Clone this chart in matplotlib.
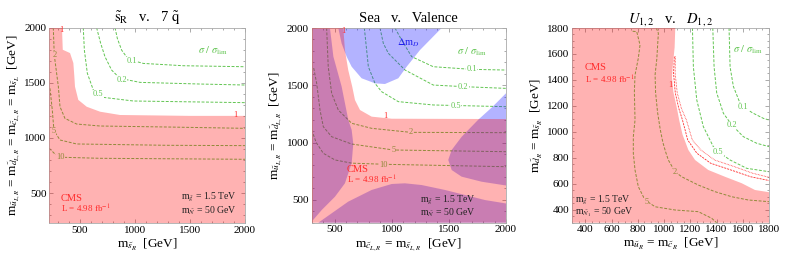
import matplotlib
matplotlib.use("Agg")
import matplotlib.pyplot as plt
from matplotlib.ticker import MultipleLocator

plt.rcParams['font.family'] = ['Liberation Serif', 'DejaVu Serif']
plt.rcParams['mathtext.fontset'] = 'stix'

GREEN = '#62c552'
RED = '#ff2a2a'

# ---- panel 1: s_R v. 7 squarks ----
p1_allowed_edge = [(340, 2000), (347, 1800), (413, 1770), (443, 1680), (452, 1560), (458, 1465),
                   (488, 1345), (564, 1283), (685, 1238), (866, 1208), (1500, 1200), (2000, 1200)]
p1_levels = {
    '0.1': [(821, 2000), (842, 1903), (881, 1797), (942, 1713), (1078, 1676), (1441, 1655), (2000, 1646)],
    '0.2': [(654, 2000), (691, 1858), (730, 1737), (790, 1616), (866, 1540), (1048, 1504), (1592, 1489), (2000, 1480)],
    '0.5': [(533, 2000), (543, 1797), (570, 1586), (624, 1435), (715, 1368), (987, 1335), (1592, 1326), (2000, 1320)],
    '2': [(261, 2000), (270, 1752), (307, 1465), (322, 1283), (367, 1177), (473, 1126), (685, 1108), (1290, 1099), (2000, 1087)],
    '5': [(231, 1450), (252, 1253), (267, 1066), (322, 981), (473, 945), (1290, 933), (2000, 930)],
    '10': [(225, 905), (276, 854), (352, 824), (685, 815), (2000, 806)],
}
p1_label_pos = {'0.1': (972, 1698), '0.2': (881, 1525), '0.5': (670, 1398),
                '2': (270, 1752), '5': (267, 1063), '10': (328, 830)}
p1_red_labels = [(337, 1975), (1915, 1208)]

# ---- panel 2: sea v. valence ----
p2_allowed_edge = [(577, 2000), (591, 1808), (620, 1633), (655, 1488), (679, 1371), (723, 1284),
                   (825, 1226), (1000, 1208), (2000, 1205)]
p2_blue_top = [(533, 2000), (562, 1866), (606, 1750), (650, 1662), (737, 1561), (854, 1517), (941, 1511),
               (1058, 1561), (1131, 1662), (1248, 1808), (1437, 2000)]
p2_blue_left = [(300, 2000), (460, 2000), (490, 1750), (562, 1490), (620, 1200), (650, 1110), (664, 990),
                (650, 820), (591, 644), (504, 527), (388, 411), (300, 309)]
p2_blue_bottom = [(358, 300), (475, 382), (620, 484), (825, 586), (1000, 638), (1116, 644), (1262, 629),
                  (1466, 586), (1641, 542), (1816, 498), (2000, 468), (2000, 300)]
p2_blue_right = [(2000, 1430), (1880, 1310), (1758, 1200), (1641, 1080), (1612, 1050), (1525, 935),
                 (1495, 848), (1525, 760), (1612, 702), (1787, 658), (2000, 625)]
p2_levels = {
    '0.1': [(1029, 2000), (1087, 1895), (1175, 1750), (1364, 1662), (1700, 1639), (2000, 1633)],
    '0.2': [(898, 2000), (927, 1866), (971, 1779), (1117, 1633), (1364, 1502), (1627, 1488), (2000, 1473)],
    '0.5': [(761, 2000), (796, 1662), (854, 1517), (912, 1444), (1058, 1357), (1364, 1328), (2000, 1313)],
    '2': [(431, 2000), (445, 1662), (475, 1430), (533, 1284), (650, 1168), (825, 1124), (1166, 1089), (2000, 1086)],
    '5': [(318, 1650), (344, 1517), (373, 1284), (402, 1138), (475, 1051), (650, 987), (1014, 935), (2000, 920)],
    '10': [(300, 1110), (340, 1000), (402, 906), (504, 848), (650, 820), (941, 810), (2000, 789)],
}
p2_label_pos = {'0.1': (1700, 1639), '0.2': (1627, 1482), '0.5': (1560, 1319),
                '2': (1166, 1089), '5': (1014, 935), '10': (927, 804)}
p2_red_labels = [(577, 1975), (947, 1232)]

# ---- panel 3: U v. D ----
p3_allowed_edge = [(1085, 1800), (1080, 1650), (1065, 1500), (1060, 1420), (1070, 1310), (1098, 1180),
                   (1115, 1090), (1140, 980), (1185, 860), (1236, 783), (1337, 706), (1464, 654),
                   (1592, 604), (1693, 552), (1800, 535)]
p3_band_dashed = [(1078, 1580), (1072, 1450), (1085, 1300), (1112, 1180), (1140, 1091), (1180, 937),
                  (1250, 835), (1355, 758), (1510, 706), (1660, 654), (1800, 625)]
p3_band_dotted = [(1086, 1580), (1084, 1450), (1100, 1300), (1132, 1180), (1170, 1091), (1215, 937),
                  (1280, 860), (1385, 783), (1535, 732), (1675, 681), (1800, 650)]
p3_levels = {
    '0.1': [(1495, 1800), (1503, 1500), (1528, 1350), (1579, 1220), (1620, 1180), (1680, 1143), (1757, 1104), (1800, 1091)],
    '0.2': [(1371, 1800), (1381, 1500), (1401, 1300), (1452, 1143), (1516, 1053), (1604, 963), (1706, 912), (1800, 886)],
    '0.5': [(1216, 1800), (1223, 1500), (1249, 1245), (1299, 1040), (1375, 886), (1413, 847), (1503, 783), (1630, 719), (1800, 693)],
    '2': [(940, 1800), (956, 1760), (950, 1660), (944, 1560), (931, 1440), (935, 1300), (950, 1150),
          (970, 1020), (990, 920), (1010, 850), (1032, 783), (1083, 693), (1134, 654), (1261, 590), (1388, 539),
          (1516, 500), (1642, 475), (1800, 462)],
    '5': [(760, 1775), (791, 1772), (816, 1669), (803, 1567), (778, 1438), (773, 1309), (778, 1091), (765, 963),
          (765, 835), (778, 706), (803, 578), (854, 475), (931, 423), (1083, 398), (1261, 385), (1363, 334), (1400, 300)],
}
p3_label_pos = {'0.1': (1604, 1190), '0.2': (1516, 1053), '0.5': (1413, 847), '2': (1083, 693), '5': (867, 462)}
p3_red_labels = [(1045, 1361)]


def xy(pts):
    return [p[0] for p in pts], [p[1] for p in pts]


def style_axes(ax, lims, major, minor):
    ax.set_xlim(lims[0], lims[1])
    ax.set_ylim(lims[2], lims[3])
    ax.xaxis.set_major_locator(MultipleLocator(major))
    ax.yaxis.set_major_locator(MultipleLocator(major))
    ax.xaxis.set_minor_locator(MultipleLocator(minor))
    ax.yaxis.set_minor_locator(MultipleLocator(minor))
    ax.tick_params(which='both', direction='in', top=True, right=True, color='#888888',
                   labelsize=8, width=0.5, pad=2)
    ax.tick_params(which='major', length=3)
    ax.tick_params(which='minor', length=1.5)
    for s in ax.spines.values():
        s.set_color('#aaaaaa')
        s.set_linewidth(0.6)


def draw_levels(ax, levels, label_pos):
    for name, pts in levels.items():
        xs, ys = xy(pts)
        ax.plot(xs, ys, color=GREEN, lw=0.7, dashes=(3, 1.6), zorder=1)
        lx, ly = label_pos[name]
        ax.text(lx, ly, name, color=GREEN, fontsize=6, ha='center', va='center', zorder=1.5,
                bbox=dict(facecolor='white', edgecolor='none', pad=0.2))


def excluded(ax, edge, lims):
    x0, x1, y0, y1 = lims
    pts = [(x0, y0), (x0, y1)] + edge + [(x1, y0)]
    xs, ys = xy(pts)
    ax.fill(xs, ys, color=(1, 0, 0), alpha=0.3, lw=0, zorder=3)


def info_text(ax, cms_xy, mass_xy, n_label):
    ax.text(cms_xy[0], cms_xy[1], 'CMS', color=RED, fontsize=7.5, zorder=5)
    ax.text(cms_xy[0], cms_xy[2], r'L = 4.98 fb$^{-1}$', color=RED, fontsize=6.5, zorder=5)
    ax.text(mass_xy[0], mass_xy[1], r'm$_{\tilde{g}}$ = 1.5 TeV', color='#222222', fontsize=7, zorder=5)
    ax.text(mass_xy[0], mass_xy[2], n_label, color='#222222', fontsize=7, zorder=5)


fig = plt.figure(figsize=(7.89, 2.61), dpi=100)

# panel 1
lims1 = (225, 2000, 225, 2000)
ax1 = fig.add_axes([0.0625, 0.1444, 0.248, 0.7494])
style_axes(ax1, lims1, 500, 100)
draw_levels(ax1, p1_levels, p1_label_pos)
excluded(ax1, p1_allowed_edge, lims1)
for lx, ly in p1_red_labels:
    ax1.text(lx, ly, '1', color=RED, fontsize=6, ha='center', va='center', zorder=4)
ax1.text(1713, 1791, r'$\sigma\ /\ \sigma_{\rm lim}$', color=GREEN, fontsize=7.5, ha='center', va='center')
info_text(ax1, (331, 430, 325), (1420, 440, 315), r'm$_{\tilde{N}}$ = 50 GeV')
ax1.set_title(r'$\tilde{\rm s}_{\rm R}$   v.   7 $\tilde{\rm q}$', fontsize=10.5, pad=4)
ax1.set_xlabel(r'm$_{\tilde{s}_R}$  [GeV]', fontsize=9.5, labelpad=1)
ax1.set_ylabel(r'm$_{\tilde{u}_{L,R}}$ = m$_{\tilde{d}_{L,R}}$ = m$_{\tilde{c}_{L,R}}$ = m$_{\tilde{s}_L}$  [GeV]',
               fontsize=9.5, labelpad=2)

# panel 2
lims2 = (300, 2000, 300, 2000)
ax2 = fig.add_axes([0.395, 0.1467, 0.2463, 0.746])
style_axes(ax2, lims2, 500, 100)
draw_levels(ax2, p2_levels, p2_label_pos)
for reg in (p2_blue_top, p2_blue_left, p2_blue_bottom, p2_blue_right):
    xs, ys = xy(reg)
    ax2.fill(xs, ys, color=(0.1, 0.1, 1.0), alpha=0.33, lw=0, zorder=2)
excluded(ax2, p2_allowed_edge, lims2)
for lx, ly in p2_red_labels:
    ax2.text(lx, ly, '1', color=RED, fontsize=6, ha='center', va='center', zorder=4)
ax2.text(1145, 1872, r'$\Delta$m$_D$', color='#2222ee', fontsize=7.5, ha='center', va='center', zorder=5)
ax2.text(1700, 1793, r'$\sigma\ /\ \sigma_{\rm lim}$', color=GREEN, fontsize=7.5, ha='center', va='center')
info_text(ax2, (606, 740, 645), (1250, 480, 360), r'm$_{\tilde{N}}$ = 50 GeV')
ax2.set_title('Sea   v.   Valence', fontsize=10.5, pad=4)
ax2.set_xlabel(r'm$_{\tilde{c}_{L,R}}$ = m$_{\tilde{s}_{L,R}}$  [GeV]', fontsize=9.5, labelpad=1)
ax2.set_ylabel(r'm$_{\tilde{u}_{L,R}}$ = m$_{\tilde{d}_{L,R}}$  [GeV]', fontsize=9.5, labelpad=2)

# panel 3
lims3 = (300, 1800, 300, 1800)
ax3 = fig.add_axes([0.7254, 0.1467, 0.2493, 0.746])
style_axes(ax3, lims3, 200, 50)
draw_levels(ax3, p3_levels, p3_label_pos)
excluded(ax3, p3_allowed_edge, lims3)
xs, ys = xy(p3_band_dashed)
ax3.plot(xs, ys, color=RED, lw=0.6, dashes=(2.5, 1.2), zorder=4)
xs, ys = xy(p3_band_dotted)
ax3.plot(xs, ys, color=RED, lw=0.6, dashes=(0.8, 1.0), zorder=4)
for lx, ly in p3_red_labels:
    ax3.text(lx, ly, '1', color=RED, fontsize=6, ha='center', va='center', zorder=4)
ax3.text(1640, 1630, r'$\sigma\ /\ \sigma_{\rm lim}$', color=GREEN, fontsize=7.5, ha='center', va='center')
info_text(ax3, (397, 1480, 1375), (320, 455, 360), r'm$_{\tilde{N}_1}$ = 50 GeV')
ax3.set_title(r'$U_{1,2}$   v.   $D_{1,2}$', fontsize=10.5, pad=4)
ax3.set_xlabel(r'm$_{\tilde{u}_R}$ = m$_{\tilde{c}_R}$  [GeV]', fontsize=9.5, labelpad=1)
ax3.set_ylabel(r'm$_{\tilde{d}_R}$ = m$_{\tilde{s}_R}$  [GeV]', fontsize=9.5, labelpad=2)

fig.savefig('out.png', dpi=100)
